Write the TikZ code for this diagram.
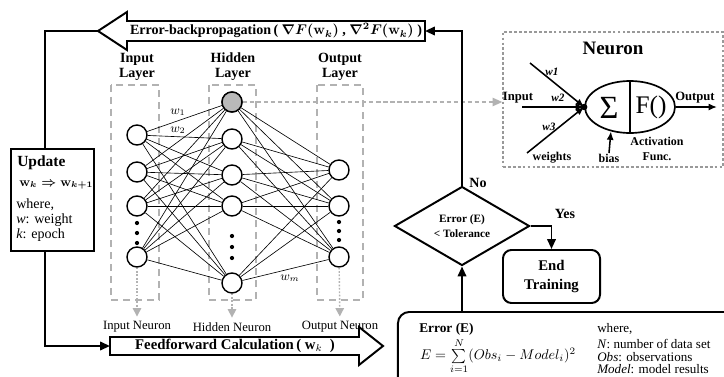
\documentclass[tikz,border=0pt]{standalone}
\usepackage{fontspec}
\setmainfont{Liberation Serif}
\usetikzlibrary{arrows.meta,shapes.geometric}

\begin{document}
\begin{tikzpicture}[
  x=0.025cm, y=-0.025cm,
  neuron/.style={circle, draw, line width=1pt, fill=white, minimum size=0.5cm, inner sep=0pt},
  link/.style={line width=0.45pt},
  layerbox/.style={draw=gray!60, line width=1.3pt, dash pattern=on 5pt off 3.5pt},
  layerlab/.style={font=\fontsize{10}{10.6}\selectfont\bfseries, align=center},
  neulab/.style={font=\fontsize{9}{10}\selectfont},
  wlab/.style={font=\fontsize{9}{10}\selectfont},
  greydown/.style={draw=gray!60, line width=1pt, dash pattern=on 1.2pt off 1.2pt, -{Triangle[length=6pt,width=6pt]}},
  greyflow/.style={draw=gray!60, line width=1pt, dash pattern=on 3pt off 2pt, -{Triangle[length=7pt,width=6pt]}},
  flow/.style={line width=1.4pt, -{Triangle[length=7pt,width=6pt]}},
  plain/.style={line width=1.4pt},
  bigarrow/.style={draw, line width=1.4pt, fill=white, line join=miter},
  arrowtext/.style={font=\fontsize{10}{12}\selectfont\bfseries\boldmath},
  box/.style={draw, line width=1.4pt, inner sep=0pt},
  wline/.style={line width=1.1pt, -{Latex[length=6pt,width=5pt]}},
  boldlab/.style={font=\fontsize{9}{10}\selectfont\bfseries},
  smallbold/.style={font=\fontsize{8}{9}\selectfont\bfseries\itshape},
  textlab/.style={font=\fontsize{10}{11}\selectfont, anchor=west, inner sep=0pt},
  wherelab/.style={font=\fontsize{9.3}{10}\selectfont, anchor=west, inner sep=0pt}
]
\useasboundingbox (0,0) rectangle (724,376);
\clip (0,0) rectangle (724,376);
\fill[white] (0,0) rectangle (724,376);

% layer frames
\draw[layerbox] (111,85) rectangle (159,300);
\draw[layerbox] (209,85) rectangle (256,300);
\draw[layerbox] (317,85) rectangle (363,300);
\node[layerlab] (inlab) at (137,67) {Input\\Layer};
\node[layerlab] (hdlab) at (233,67) {Hidden\\Layer};
\node[layerlab] (outlab) at (340,67) {Output\\Layer};

% neurons
\foreach \i/\y in {1/135,2/172,3/206,4/257}
  \node[neuron] (in\i) at (137,\y) {};
\foreach \j/\y in {1/102,2/139,3/175,4/206,5/283}
  \node[neuron] (hd\j) at (232,\y) {};
\node[neuron, fill=gray!55] at (hd1) {};
\foreach \k/\y in {1/170,2/206,3/257}
  \node[neuron] (out\k) at (339,\y) {};
\foreach \i in {1,...,4}
  \foreach \j in {1,...,5}
    \draw[link] (in\i) -- (hd\j);
\foreach \j in {1,...,5}
  \foreach \k in {1,...,3}
    \draw[link] (hd\j) -- (out\k);
\foreach \y in {223,233,243} \fill (137,\y) circle (1.5pt);
\foreach \y in {236,247,258} \fill (232,\y) circle (1.5pt);
\foreach \y in {222,231,240} \fill (339,\y) circle (1.5pt);
\node[wlab] (w1lab) at (178,112) {$w_1$};
\node[wlab] (w2lab) at (178,130) {$w_2$};
\node[wlab] (wmlab) at (290,278) {$w_m$};

% neuron labels
\node[neulab] (lbin) at (137,327) {Input Neuron};
\node[neulab] (lbhd) at (232,327) {Hidden Neuron};
\node[neulab] (lbout) at (340,327) {Output Neuron};
\draw[greydown] (in4) -- (lbin);
\draw[greydown] (hd5) -- (lbhd);
\draw[greydown] (out3) -- (lbout);

% backpropagation arrow
\draw[bigarrow] (425,21) -- (127,21) -- (127,12) -- (98,31) -- (127,50) -- (127,41) -- (425,41) -- cycle;
\node[arrowtext] (bptext) at (276,31) {Error-backpropagation\,( $\nabla F(\mathbf{w}_k)$ , $\nabla^2 F(\mathbf{w}_k)$ )};
\coordinate (bptip) at (98,31);
\coordinate (bpend) at (425,31);

% feedforward arrow
\draw[bigarrow] (110,337) -- (359,337) -- (359,327) -- (383,346) -- (359,365) -- (359,355) -- (110,355) -- cycle;
\node[arrowtext, font=\fontsize{10.5}{12}\selectfont\bfseries] (fftext) at (235,346) {Feedforward Calculation\,( $\mathbf{w}_k$\ \ )};
\coordinate (fftail) at (110,346);

% update box
\node[box, minimum width=2.075cm, minimum height=2.55cm] (upd) at (52.5,200) {};
\node[textlab, font=\fontsize{11}{12}\selectfont\bfseries] (updtitle) at (17,163) {Update};
\node[textlab, font=\fontsize{9}{10}\selectfont\bfseries\boldmath] (updrule) at (19,185) {$\mathbf{w}_k \Rightarrow \mathbf{w}_{k+1}$};
\node[textlab] (updwhere) at (16,205) {where,};
\node[textlab] (updw) at (16,220) {\textit{w}: weight};
\node[textlab] (updk) at (16,235) {\textit{k}: epoch};
\coordinate (looptop) at (45,31);
\draw[plain] (bptip) -- (looptop) -- (looptop |- upd.north);
\draw[flow] (looptop |- upd.south) |- (fftail);

% neuron detail
\node[draw=gray!80, line width=0.9pt, dash pattern=on 2pt off 1.5pt, minimum width=5.5cm, minimum height=3.375cm, inner sep=0pt] (nbox) at (613,99.5) {};
\node[font=\fontsize{13.5}{14}\selectfont\bfseries] (nbtitle) at (613,48) {Neuron};
\node[ellipse, draw, line width=1.2pt, minimum width=2.25cm, minimum height=1.3cm, inner sep=0pt] (cell) at (630,107) {};
\draw[line width=1.2pt] (cell.north) -- (cell.south);
\node[font=\fontsize{23}{23}\selectfont] (sig) at (609,108) {Σ};
\node[font=\fontsize{18}{18}\selectfont] (fact) at (651,107) {F()};
\coordinate (w1s) at (530,63);
\coordinate (w2s) at (522,107);
\coordinate (w3s) at (527,153);
\coordinate (oend) at (717,107);
\coordinate (bin) at (609,153);
\draw[wline] (w1s) -- (cell.west);
\draw[wline] (w2s) -- (cell.west);
\draw[wline] (w3s) -- (cell.west);
\fill (cell.west) circle (2.3pt);
\draw[wline] (cell.east) -- (oend);
\draw[wline] (bin) -- (cell.-128);
\node[boldlab] (nin) at (518,98) {Input};
\node[boldlab] (nout) at (695,98) {Output};
\node[smallbold] (nw1) at (552,72) {w1};
\node[smallbold] (nw2) at (558,98) {w2};
\node[smallbold] (nw3) at (549,127) {w3};
\node[boldlab, font=\fontsize{8.5}{9}\selectfont\bfseries] (nweights) at (552,158) {weights};
\node[boldlab, font=\fontsize{8.5}{9}\selectfont\bfseries] (nbias) at (609,158) {bias};
\node[boldlab, font=\fontsize{8.5}{10.5}\selectfont\bfseries, align=center] (nact) at (657,149) {Activation\\Func.};
\draw[greyflow] (hd1.east) -- (hd1.east -| nbox.west);

% stopping check
\node[diamond, draw, line width=1.4pt, minimum width=3.375cm, minimum height=1.55cm, inner sep=0pt, align=center, font=\fontsize{8}{10.5}\selectfont\bfseries] (chk) at (462,226) {Error (E)\\< Tolerance};
\node[box, rounded corners=6pt, minimum width=2.425cm, minimum height=1.325cm, align=center, font=\fontsize{10.5}{13}\selectfont\bfseries] (endt) at (551.5,276.5) {End\\Training};
\node[font=\fontsize{10}{11}\selectfont\bfseries] (nolab) at (478,183) {No};
\node[font=\fontsize{10}{11}\selectfont\bfseries] (yeslab) at (565,214) {Yes};
\draw[flow] (chk.east) -| (endt.north);
\draw[flow] (chk.north) |- (bpend);

% error box
\node[box, rounded corners=8pt, minimum width=8.6cm, minimum height=2.1cm] (errbox) at (570,354) {};
\node[textlab, font=\fontsize{9.5}{11}\selectfont\bfseries] (errtitle) at (419,329) {Error (E)};
\node[font=\fontsize{10}{12}\selectfont, inner sep=0pt] (errformula) at (498,356) {$E=\sum\limits_{i=1}^{N}(Obs_i-Model_i)^2$};
\node[wherelab] (errwhere) at (597,329) {where,};
\node[wherelab] (errn) at (597,344) {\textit{N}: number of data set};
\node[wherelab] (errobs) at (597,357) {\textit{Obs}: observations};
\node[wherelab] (errmod) at (597,369) {\textit{Model}: model results};
\draw[flow] (chk.south |- errbox.north) -- (chk.south);
\end{tikzpicture}
\end{document}
